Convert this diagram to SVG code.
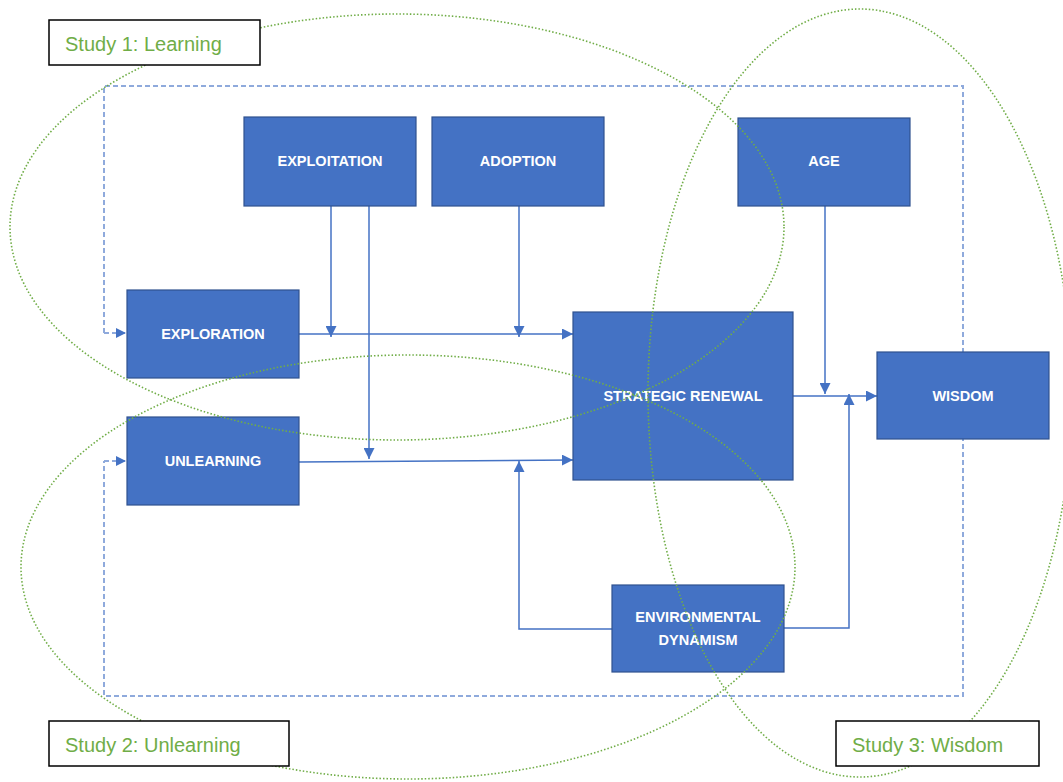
<svg xmlns="http://www.w3.org/2000/svg" width="1063" height="782" viewBox="0 0 1063 782">
<style>
.node rect{fill:#4472C4;stroke:#2F528F;stroke-width:1.2}
.node text{fill:#fff;font-family:"Liberation Sans",Arial,sans-serif;font-weight:bold;font-size:14.5px;text-anchor:middle}
.conn{fill:none;stroke:#4472C4;stroke-width:1.5}
.frame{fill:none;stroke:#8FAADC;stroke-width:2;stroke-dasharray:5 3}
.study{fill:none;stroke:#70AD47;stroke-width:1.6;stroke-dasharray:1.5 2}
.label rect{fill:#fff;stroke:#000;stroke-width:1.5}
.label text{fill:#70AD47;font-family:"Liberation Sans",Arial,sans-serif;font-size:20px}
</style>
<defs>
<marker id="ah" viewBox="0 0 10 10" refX="10" refY="5" markerWidth="11" markerHeight="11" markerUnits="userSpaceOnUse" orient="auto"><path d="M0,0 L10,5 L0,10 z" fill="#4472C4"/></marker>
<marker id="ahf" viewBox="0 0 10 10" refX="10" refY="5" markerWidth="10" markerHeight="10" markerUnits="userSpaceOnUse" orient="auto"><path d="M0,0 L10,5 L0,10 z" fill="#4472C4"/></marker>
</defs>
<rect width="1063" height="782" fill="#fff"/>
<g id="frame">
<path class="frame" d="M104,333 V86 H963 V696 H104 V461"/>
<path class="frame" d="M104,333 H126" marker-end="url(#ahf)"/>
<path class="frame" d="M104,461 H126" marker-end="url(#ahf)"/>
</g>
<g id="connectors">
<path class="conn" d="M331,206 V337" marker-end="url(#ah)"/>
<path class="conn" d="M369,206 V459" marker-end="url(#ah)"/>
<path class="conn" d="M519,206 V337" marker-end="url(#ah)"/>
<path class="conn" d="M299,334 H573" marker-end="url(#ah)"/>
<path class="conn" d="M299,462 L573,460" marker-end="url(#ah)"/>
<path class="conn" d="M825,206 V394" marker-end="url(#ah)"/>
<path class="conn" d="M793,396 H877" marker-end="url(#ah)"/>
<path class="conn" d="M784,628 H849 V394" marker-end="url(#ah)"/>
<path class="conn" d="M612,629 H519 V461" marker-end="url(#ah)"/>
</g>
<g id="exploitation" class="node"><rect x="244" y="117" width="172" height="89"/><text x="330" y="166">EXPLOITATION</text></g>
<g id="adoption" class="node"><rect x="432" y="117" width="172" height="89"/><text x="518" y="166">ADOPTION</text></g>
<g id="age" class="node"><rect x="738" y="118" width="172" height="88"/><text x="824" y="166">AGE</text></g>
<g id="exploration" class="node"><rect x="127" y="290" width="172" height="88"/><text x="213" y="339">EXPLORATION</text></g>
<g id="unlearning" class="node"><rect x="127" y="417" width="172" height="88"/><text x="213" y="466">UNLEARNING</text></g>
<g id="strategic-renewal" class="node"><rect x="573" y="312" width="220" height="168"/><text x="683" y="401">STRATEGIC RENEWAL</text></g>
<g id="wisdom" class="node"><rect x="877" y="352" width="172" height="87"/><text x="963" y="401">WISDOM</text></g>
<g id="environmental-dynamism" class="node"><rect x="612" y="585" width="172" height="87"/><text x="698" y="622">ENVIRONMENTAL</text><text x="698" y="645">DYNAMISM</text></g>
<g id="study-ellipses">
<ellipse class="study" cx="397" cy="227" rx="387" ry="213"/>
<ellipse class="study" cx="408" cy="567" rx="387" ry="212"/>
<ellipse class="study" cx="860" cy="393" rx="212" ry="384"/>
</g>
<g id="study1" class="label"><rect x="49" y="20" width="211" height="45"/><text x="65" y="51">Study 1: Learning</text></g>
<g id="study2" class="label"><rect x="49" y="721" width="240" height="45"/><text x="65" y="752">Study 2: Unlearning</text></g>
<g id="study3" class="label"><rect x="836" y="721" width="203" height="45"/><text x="852" y="752">Study 3: Wisdom</text></g>
</svg>
